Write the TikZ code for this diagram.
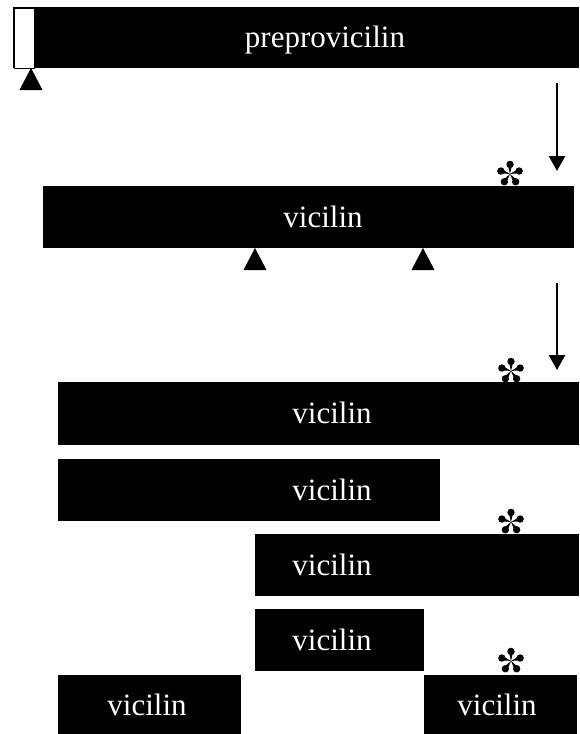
\documentclass[tikz,border=0pt]{standalone}
\usepackage{fontspec}
\setmainfont{Liberation Serif}
\usetikzlibrary{arrows.meta}

% cleavage site below a chain
\newcommand{\cut}[2]{\fill (#1,#2) -- ++(11.5,22) -- ++(-23,0) -- cycle;}
% glycosylation mark
\newcommand{\glyc}[2]{%
  \begin{scope}[shift={(#1,#2)}]
    \foreach \a in {270,342,54,126,198} {
      \fill (0,0) -- (\a-13:9.3) -- (\a+13:9.3) -- cycle;
      \fill (\a:9.6) circle (3.7);
    }
  \end{scope}}

\begin{document}
\begin{tikzpicture}[
  x=1pt, y=-1pt,
  chain/.style={fill=black, draw=none, inner sep=0pt, anchor=north west},
  signal/.style={chain, fill=white, draw=black, line width=1pt},
  lbl/.style={text=white, anchor=base, inner sep=0pt, font=\fontsize{31}{31}\selectfont},
  proc/.style={draw, line width=2.5pt, -{Triangle[width=16pt,length=15pt]}}
]
  \useasboundingbox (0,0) rectangle (579,734);

  % precursor with signal peptide
  \node[chain, minimum width=566pt, minimum height=61pt] (pre) at (13,7) {};
  \node[signal, minimum width=20pt, minimum height=60pt] (sig) at (13.5,7.5) {};
  \node[lbl] (lpre) at (325,47) {preprovicilin};
  \cut{31}{68}

  \coordinate (a1s) at (557,83);
  \coordinate (a1e) at (557,171);
  \draw[proc] (a1s) -- (a1e);

  % mature chain
  \glyc{510}{174}
  \node[chain, minimum width=531pt, minimum height=62pt] (v0) at (43,186) {};
  \node[lbl] (l0) at (323,227) {vicilin};
  \cut{255}{248}
  \cut{423}{248}

  \coordinate (a2s) at (557,283);
  \coordinate (a2e) at (557,370);
  \draw[proc] (a2s) -- (a2e);

  % processed fragments
  \glyc{511}{371}
  \node[chain, minimum width=521pt, minimum height=63pt] (v1) at (58,382) {};
  \node[lbl] (l1) at (332,423) {vicilin};

  \node[chain, minimum width=382pt, minimum height=62pt] (v2) at (58,459) {};
  \node[lbl] (l2) at (332,500) {vicilin};

  \glyc{511}{522}
  \node[chain, minimum width=324pt, minimum height=62pt] (v3) at (255,534) {};
  \node[lbl] (l3) at (332,575) {vicilin};

  \node[chain, minimum width=169pt, minimum height=62pt] (v4) at (255,609) {};
  \node[lbl] (l4) at (332,650) {vicilin};

  \glyc{511}{661}
  \node[chain, minimum width=183pt, minimum height=59pt] (v5) at (58,675) {};
  \node[lbl] (l5) at (147,715) {vicilin};
  \node[chain, minimum width=153pt, minimum height=59pt] (v6) at (424,675) {};
  \node[lbl] (l6) at (497,715) {vicilin};
\end{tikzpicture}
\end{document}
